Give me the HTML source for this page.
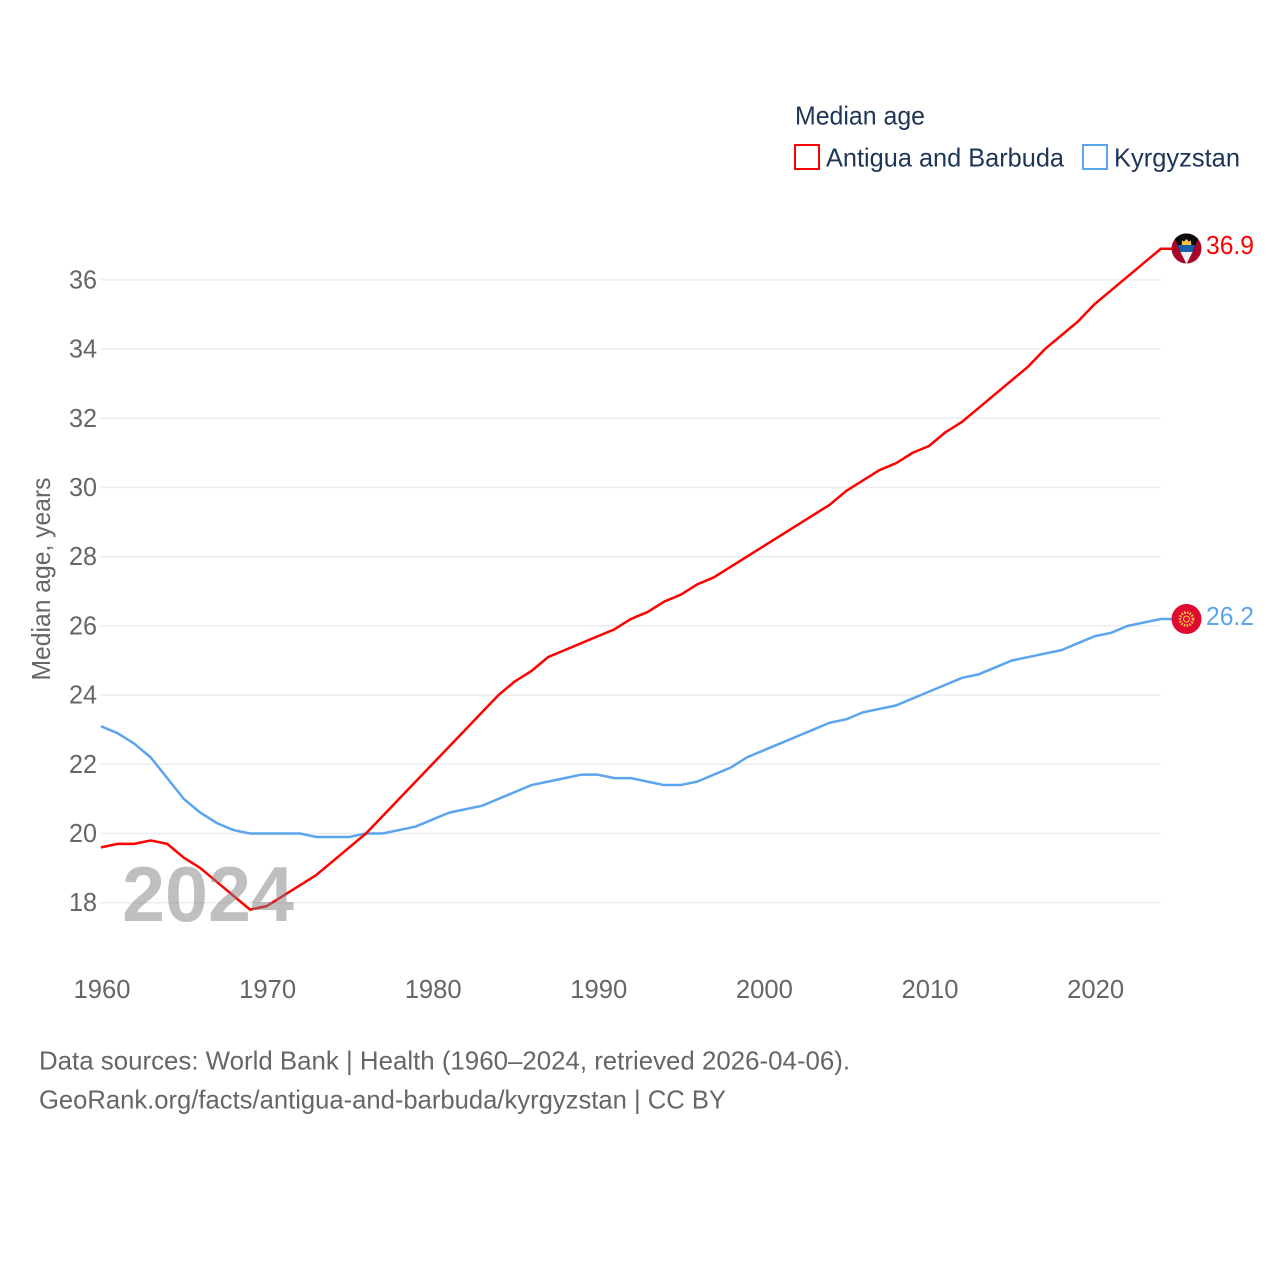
<!DOCTYPE html>
<html lang="en">
<head>
<meta charset="utf-8">
<title>Median age: Antigua and Barbuda vs Kyrgyzstan</title>
<style>
html,body{margin:0;padding:0;background:#fff;}
svg{display:block;font-family:"Liberation Sans",sans-serif;}
</style>
</head>
<body>
<svg id="chart" xmlns="http://www.w3.org/2000/svg" width="1280" height="1280" viewBox="0 0 1280 1280">
  <defs>
    <clipPath id="clip-a"><circle cx="1186.5" cy="248.5" r="15"/></clipPath>
    <clipPath id="clip-k"><circle cx="1186.5" cy="619" r="15"/></clipPath>
  </defs>
  <rect width="1280" height="1280" fill="#fff"/>

  <g>
    <text x="795" y="124.5" font-size="26" fill="#1d3557" textLength="130" lengthAdjust="spacingAndGlyphs">Median age</text>
    <rect x="795" y="145" width="24" height="24" fill="none" stroke="#ff0000" stroke-width="2"/>
    <text x="826" y="166.5" font-size="26" fill="#1d3557" textLength="238" lengthAdjust="spacingAndGlyphs">Antigua and Barbuda</text>
    <rect x="1083" y="145" width="24" height="24" fill="none" stroke="#5ba4ee" stroke-width="2"/>
    <text x="1114" y="166.5" font-size="26" fill="#1d3557" textLength="126" lengthAdjust="spacingAndGlyphs">Kyrgyzstan</text>
  </g>

  <text transform="translate(50,579) rotate(-90)" text-anchor="middle" font-size="26" fill="#666" textLength="203" lengthAdjust="spacingAndGlyphs">Median age, years</text>

  <g id="grid"></g>
  <g id="yticks"></g>
  <g id="xticks"></g>
  <g id="series"></g>

  <text x="122" y="921" font-size="78" font-weight="700" fill="#808080" fill-opacity="0.5" textLength="172" lengthAdjust="spacingAndGlyphs">2024</text>

  <g clip-path="url(#clip-a)">
    <rect x="1171" y="233" width="31" height="31" fill="#a5062a"/>
    <polygon points="1172,233 1201,233 1186.5,264" fill="#0b0b0b"/>
    <polygon points="1178,245 1195,245 1192.5,252 1180.5,252" fill="#1660b0"/>
    <polygon points="1180.5,252 1192.5,252 1186.5,264" fill="#f0f0f0"/>
    <polygon points="1181.7,245 1182,240.5 1184,241.5 1186.5,239 1189,241.5 1191,240.5 1191.3,245" fill="#f5c242"/>
  </g>
  <text id="label-antigua" x="1206" y="254" font-size="26" fill="#ff0000" textLength="48" lengthAdjust="spacingAndGlyphs">36.9</text>

  <g clip-path="url(#clip-k)">
    <rect x="1171" y="604" width="31" height="31" fill="#df0b30"/>
    <circle cx="1186.5" cy="619" r="6.5" fill="none" stroke="#f9c93c" stroke-width="2.6" stroke-dasharray="1.6 1.2"/>
    <circle cx="1186.5" cy="619" r="3" fill="none" stroke="#f9c93c" stroke-width="1.1"/>
  </g>
  <text id="label-kyrgyzstan" x="1206" y="625" font-size="26" fill="#5ba4ee" textLength="48" lengthAdjust="spacingAndGlyphs">26.2</text>

  <g>
    <text x="39" y="1069.5" font-size="26" fill="#666" textLength="811" lengthAdjust="spacingAndGlyphs">Data sources: World Bank | Health (1960–2024, retrieved 2026-04-06).</text>
    <text x="39" y="1108.5" font-size="26" fill="#666" textLength="687" lengthAdjust="spacingAndGlyphs">GeoRank.org/facts/antigua-and-barbuda/kyrgyzstan | CC BY</text>
  </g>
</svg>
<script>
const firstYear = 1960;
const antiguaValues = [19.6,19.7,19.7,19.8,19.7,19.3,19.0,18.6,18.2,17.8,17.9,18.2,18.5,18.8,19.2,19.6,20.0,20.5,21.0,21.5,22.0,22.5,23.0,23.5,24.0,24.4,24.7,25.1,25.3,25.5,25.7,25.9,26.2,26.4,26.7,26.9,27.2,27.4,27.7,28.0,28.3,28.6,28.9,29.2,29.5,29.9,30.2,30.5,30.7,31.0,31.2,31.6,31.9,32.3,32.7,33.1,33.5,34.0,34.4,34.8,35.3,35.7,36.1,36.5,36.9];
const kyrgyzstanValues = [23.1,22.9,22.6,22.2,21.6,21.0,20.6,20.3,20.1,20.0,20.0,20.0,20.0,19.9,19.9,19.9,20.0,20.0,20.1,20.2,20.4,20.6,20.7,20.8,21.0,21.2,21.4,21.5,21.6,21.7,21.7,21.6,21.6,21.5,21.4,21.4,21.5,21.7,21.9,22.2,22.4,22.6,22.8,23.0,23.2,23.3,23.5,23.6,23.7,23.9,24.1,24.3,24.5,24.6,24.8,25.0,25.1,25.2,25.3,25.5,25.7,25.8,26.0,26.1,26.2];
const yTickLabels = [18,20,22,24,26,28,30,32,34,36];
const xTickLabels = [1960,1970,1980,1990,2000,2010,2020];

const NS = 'http://www.w3.org/2000/svg';
function xScale(year){ return 101 + (year - 1960) * 16.56; }
function yScale(v){ return 902.7 - (v - 18) * 34.6; }
function make(tag, attrs, parent){
  const el = document.createElementNS(NS, tag);
  for (const k in attrs) el.setAttribute(k, attrs[k]);
  parent.appendChild(el);
  return el;
}

const grid = document.getElementById('grid');
const yticks = document.getElementById('yticks');
const xticks = document.getElementById('xticks');
const series = document.getElementById('series');

yTickLabels.forEach(function(t){
  const line = make('line', {x1:101, x2:1161, y1:yScale(t), y2:yScale(t), stroke:'#ececec', 'stroke-width':1.5}, grid);
  
  
  const label = make('text', {x:97, y:yScale(t)+8.5, 'text-anchor':'end', 'font-size':26, fill:'#666', textLength:28, lengthAdjust:'spacingAndGlyphs'}, yticks);
  label.textContent = t;
  
  
});

xTickLabels.forEach(function(t){
  const label = make('text', {x:xScale(t)+1, y:998, 'text-anchor':'middle', 'font-size':26, fill:'#666', textLength:57, lengthAdjust:'spacingAndGlyphs'}, xticks);
  label.textContent = t;
  
  
});

function drawSeries(values, color, name, flagX){
  const pts = values.map(function(v, i){ return xScale(firstYear + i).toFixed(2) + ',' + yScale(v).toFixed(2); });
  const last = values[values.length - 1];
  pts.push(flagX + ',' + yScale(last).toFixed(2));
  const line = make('polyline', {points:pts.join(' '), fill:'none', stroke:color, 'stroke-width':2.5, 'stroke-linejoin':'round'}, series);
  
  
}
drawSeries(kyrgyzstanValues, '#5ba4ee', 'line-kyrgyzstan', 1172);
drawSeries(antiguaValues, '#ff0000', 'line-antigua-and-barbuda', 1172);
</script>
</body>
</html>
